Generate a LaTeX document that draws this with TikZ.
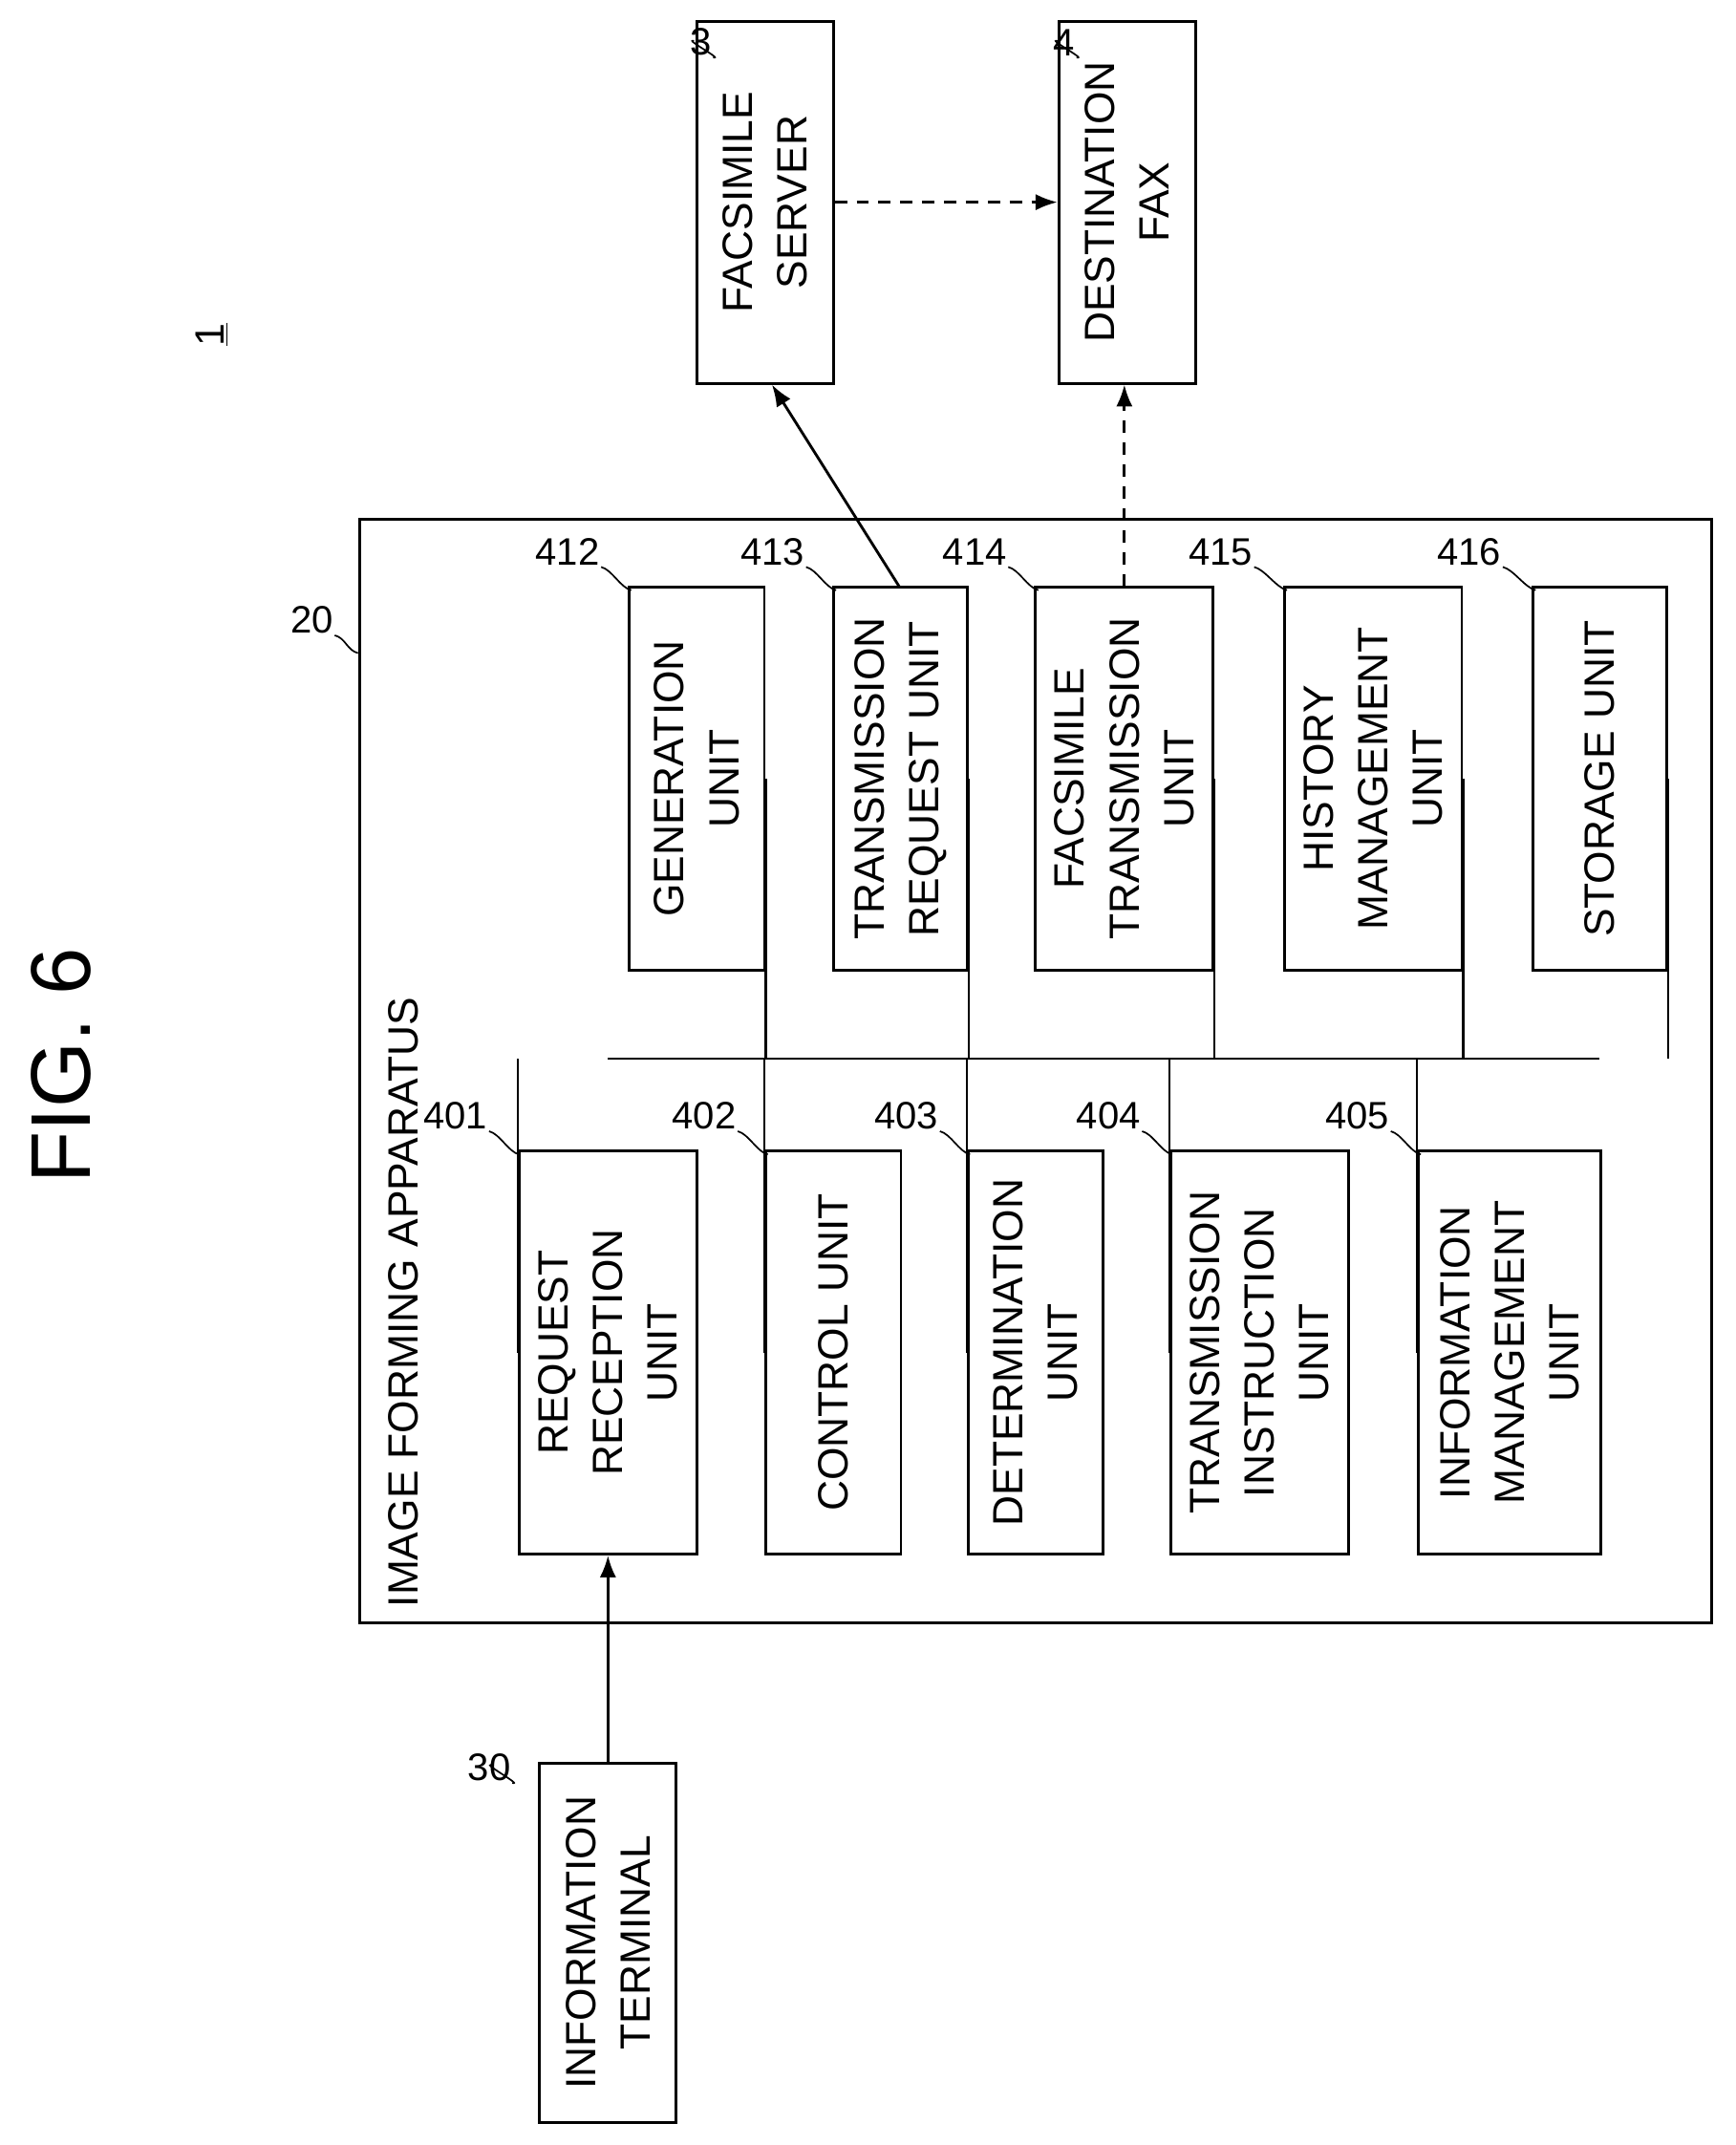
\documentclass[tikz,border=0pt]{standalone}
\usepackage{fontspec}
\setmainfont{Liberation Sans}
\usetikzlibrary{arrows.meta, positioning}
\begin{document}
\begin{tikzpicture}[x=1pt, y=-1pt,
  font=\fontsize{31}{40}\selectfont,
  unit/.style={
    draw,
    line width=2pt,
    rectangle,
    rotate=90,
    align=center,
    inner sep=0pt
  },
  line/.style={-{Latex[length=16pt, width=12pt]}, line width=2pt},
  dline/.style={line, dash pattern=on 9pt off 7pt},
  bus/.style={line width=1.6pt},
  refnum/.style={font=\fontsize{28}{30}\selectfont, inner sep=1pt}
  ]
\useasboundingbox (0,0) rectangle (1270,1570);

% Title and system number
\node[rotate=90, font=\fontsize{62}{62}\selectfont] (fig) at (45,780) {FIG. 6};
\node[rotate=90, font=\fontsize{30}{30}\selectfont] (sys) at (155,245) {\underline{1}};

% Outside devices
\node[unit, minimum width=265pt, minimum height=100pt] (server) at (560,148) {FACSIMILE\\SERVER};
\node[unit, minimum width=265pt, minimum height=100pt] (fax) at (825,148) {DESTINATION\\FAX};
\node[unit, minimum width=263pt, minimum height=100pt] (terminal) at (445,1422) {INFORMATION\\TERMINAL};

% Image forming apparatus
\node[draw, line width=2pt, minimum width=990pt, minimum height=808pt, inner sep=0pt] (apparatus) at (758,784) {};
\node[rotate=90, anchor=west] (apptitle) at (295,1180) {IMAGE FORMING APPARATUS};

% Upper units
\node[unit, minimum width=280pt, minimum height=99pt] (gen) at (510,570) {GENERATION\\UNIT};
\node[unit, minimum width=280pt, minimum height=98pt] (req) at (659,570) {TRANSMISSION\\REQUEST UNIT};
\node[unit, minimum width=280pt, minimum height=130pt] (ftx) at (823,570) {FACSIMILE\\TRANSMISSION\\UNIT};
\node[unit, minimum width=280pt, minimum height=130pt] (hist) at (1005,570) {HISTORY\\MANAGEMENT\\UNIT};
\node[unit, minimum width=280pt, minimum height=98pt] (store) at (1171,570) {STORAGE UNIT};

% Lower units
\node[unit, minimum width=295pt, minimum height=130pt] (recv) at (445,990) {REQUEST\\RECEPTION\\UNIT};
\node[unit, minimum width=295pt, minimum height=99pt] (ctrl) at (610,990) {CONTROL UNIT};
\node[unit, minimum width=295pt, minimum height=99pt] (det) at (758,990) {DETERMINATION\\UNIT};
\node[unit, minimum width=295pt, minimum height=130pt] (instr) at (922,990) {TRANSMISSION\\INSTRUCTION\\UNIT};
\node[unit, minimum width=295pt, minimum height=134pt] (info) at (1105,990) {INFORMATION\\MANAGEMENT\\UNIT};

% Bus
\coordinate (busL) at (445,775);
\coordinate (busR) at (1171,775);
\draw[bus] (busL) -- (busR);
\foreach \n in {gen, req, ftx, hist, store}
  \draw[bus] (\n.south) -- (\n.south |- busL);
\foreach \n in {recv, ctrl, det, instr, info}
  \draw[bus] (\n.north) -- (\n.north |- busL);

% Connectors
\draw[line] (terminal.east) -- (recv.west);
\draw[line] ([xshift=-1pt]req.east) -- ([xshift=5pt]server.west);
\draw[dline] (ftx.east) -- (ftx.east |- fax.west);
\draw[dline] (server.south) -- (fax.north);

% Reference numbers
\foreach \num/\px/\py/\tx/\ty in {3/522/42/508/30, 4/788/42/774/30, 30/375/1305/360/1292,
    20/245/465/262/478, 412/440/415/462/432, 413/590/415/612/432, 414/738/415/760/432,
    415/918/415/942/432, 416/1100/415/1124/432,
    401/358/828/380/845, 402/540/828/562/845, 403/688/828/710/845,
    404/836/828/858/845, 405/1018/828/1040/845}{
  \node[refnum, anchor=south east] (r\num) at (\px,\py) {\num};
  \draw[line width=1.2pt] (\px,\py) .. controls (\px+8,\py+2) and (\tx-8,\ty-2) .. (\tx,\ty);
}
\end{tikzpicture}
\end{document}
